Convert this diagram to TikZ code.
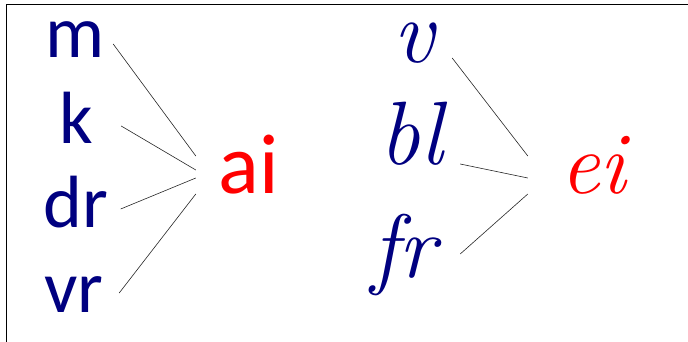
\documentclass[tikz,border=0pt]{standalone}
\usepackage{fontspec}
\newfontfamily\printfont{Carlito}
\definecolor{navy}{RGB}{0,0,128}

\begin{document}
\begin{tikzpicture}[
  x=1pt, y=1pt,
  cons/.style={text=navy, font=\printfont\fontsize{74}{74}\selectfont, inner sep=0pt, minimum width=90pt, anchor=base},
  vowel/.style={text=red, font=\printfont\fontsize{85}{85}\selectfont, inner sep=0pt, minimum width=105pt, anchor=base},
  ccons/.style={text=navy, font=\itshape\fontsize{90}{90}\selectfont, inner sep=0pt, minimum width=100pt, anchor=base},
  cvowel/.style={text=red, font=\itshape\fontsize{88}{88}\selectfont, inner sep=0pt, minimum width=130pt, anchor=base},
  link/.style={draw=black!85, line width=0.6pt}
]
\useasboundingbox (0,0) rectangle (688,342);
\draw[line width=1pt] (6,0) -- (6,337) -- (690,337);
% print letters
\node[cons] (m) at (75,284) {m};
\node[cons] (k) at (76,198) {k};
\node[cons] (dr) at (75.5,114) {dr};
\node[cons] (vr) at (74,29) {vr};
\node[vowel] (ai) at (248.5,148) {ai};
% cursive letters
\node[ccons] (v) at (414,279) {v};
\node[ccons] (bl) at (411,177) {bl};
\node[ccons] (fr) at (404,64) {fr};
\node[cvowel] (ei) at (593,148) {ei};
\draw[link] ([shift={(-7pt,14pt)}]m.base east) -- ([yshift=38pt]ai.base west);
\draw[link] ([yshift=18pt]k.base east) -- ([yshift=24pt]ai.base west);
\draw[link] ([yshift=19pt]dr.base east) -- ([yshift=16pt]ai.base west);
\draw[link] ([yshift=20pt]vr.base east) -- (ai.base west);
\draw[link] ([shift={(-12pt,5pt)}]v.base east) -- ([yshift=38pt]ei.base west);
\draw[link] ([shift={(-1pt,1pt)}]bl.base east) -- ([yshift=16pt]ei.base west);
\draw[link] ([shift={(6pt,24pt)}]fr.base east) -- (ei.base west);
\end{tikzpicture}
\end{document}
